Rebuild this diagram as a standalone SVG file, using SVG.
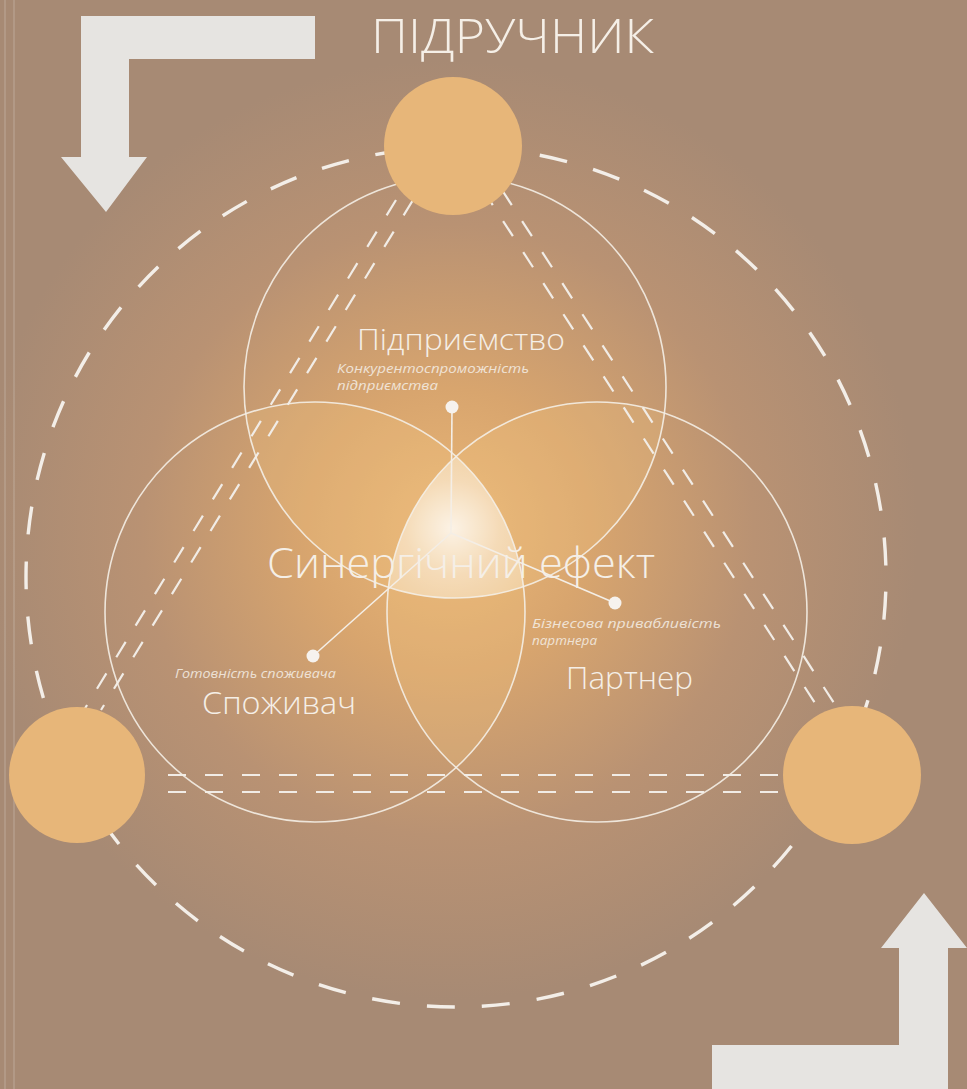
<svg xmlns="http://www.w3.org/2000/svg" width="967" height="1089" viewBox="0 0 967 1089">
<defs>
<radialGradient id="bg" gradientUnits="userSpaceOnUse" cx="448" cy="530" r="470">
 <stop offset="0" stop-color="#eab777"/>
 <stop offset="0.3" stop-color="#d8a56e"/>
 <stop offset="0.65" stop-color="#b99273"/>
 <stop offset="1" stop-color="#a78a74"/>
</radialGradient>
<radialGradient id="core" gradientUnits="userSpaceOnUse" cx="452" cy="528" r="95">
 <stop offset="0" stop-color="#ffffff" stop-opacity="0.8"/>
 <stop offset="0.5" stop-color="#ffffff" stop-opacity="0.45"/>
 <stop offset="1" stop-color="#ffffff" stop-opacity="0.28"/>
</radialGradient>
<clipPath id="cT"><circle cx="455" cy="387" r="211"/></clipPath>
<clipPath id="cL"><circle cx="315" cy="612" r="210"/></clipPath>
<clipPath id="cR"><circle cx="597" cy="612" r="210"/></clipPath>
<style>
 .ring{fill:none;stroke:#f4eee6;stroke-width:1.6;opacity:0.9}
 .lens{fill:#f3c684;fill-opacity:0.25}
 .dash{stroke:#f1ece6;stroke-width:2.2;stroke-dasharray:18 19;fill:none}
 .big{fill:none;stroke:#f3eee8;stroke-width:3.4;stroke-dasharray:28 27.14;stroke-dashoffset:-14.8}
 .sun{fill:#e7b679}
 .arrow{fill:#e6e4e1}
 .conn{stroke:#f4eee6;stroke-width:1.6;fill:none}
 .dot{fill:#f6f2ee}
 .t{font-family:"Open Sans","Noto Sans","DejaVu Sans",sans-serif;fill:#f5efe7;font-weight:300}
 .it{font-family:"Open Sans","Noto Sans","DejaVu Sans",sans-serif;fill:#f5efe7;font-style:italic;font-size:13.5px;opacity:0.85}
</style>
</defs>

<rect width="967" height="1089" fill="url(#bg)"/>
<line x1="5" y1="0" x2="5" y2="1089" stroke="#d8cfc6" stroke-width="1.5" opacity="0.3"/>
<line x1="14" y1="0" x2="14" y2="1089" stroke="#d8cfc6" stroke-width="1.5" opacity="0.3"/>

<g id="title">
 <text class="t" x="371" y="53" font-size="48" textLength="283" lengthAdjust="spacingAndGlyphs" fill="#ece8e4">ПІДРУЧНИК</text>
</g>

<g id="arrow-top">
 <polygon class="arrow" points="81,16 315,16 315,59 129,59 129,157 147,157 106,212 61,157 81,157"/>
</g>
<g id="arrow-bottom">
 <polygon class="arrow" points="712,1045 899,1045 899,948 881,948 924,893 967,948 948,948 948,1089 712,1089"/>
</g>

<g id="big-ring">
 <circle class="big" cx="456" cy="577" r="430"/>
</g>

<g id="overlaps">
 <g clip-path="url(#cL)"><circle class="lens" cx="455" cy="387" r="211"/></g>
 <g clip-path="url(#cR)"><circle class="lens" cx="455" cy="387" r="211"/></g>
 <g clip-path="url(#cR)"><circle class="lens" cx="315" cy="612" r="210"/></g>
 <g clip-path="url(#cL)"><g clip-path="url(#cR)"><circle cx="455" cy="387" r="211" fill="url(#core)"/></g></g>
</g>

<g id="dashed-links">
 <line class="dash" x1="396" y1="200" x2="84" y2="710"/>
 <line class="dash" x1="413" y1="200" x2="101" y2="710"/>
 <line class="dash" x1="483" y1="190" x2="826" y2="720"/>
 <line class="dash" x1="502" y1="190" x2="845" y2="720"/>
 <line class="dash" x1="168" y1="775" x2="784" y2="775"/>
 <line class="dash" x1="168" y1="792" x2="784" y2="792"/>
</g>

<g id="node-enterprise">
 <circle class="ring" cx="455" cy="387" r="211"/>
 <text class="t" x="357" y="350" font-size="30" textLength="208" lengthAdjust="spacingAndGlyphs">Підприємство</text>
 <text class="it" x="337" y="373" textLength="192" lengthAdjust="spacingAndGlyphs">Конкурентоспроможність</text>
 <text class="it" x="337" y="390" textLength="101" lengthAdjust="spacingAndGlyphs">підприємства</text>
</g>

<g id="node-consumer">
 <circle class="ring" cx="315" cy="612" r="210"/>
 <text class="it" x="175" y="678" textLength="161" lengthAdjust="spacingAndGlyphs">Готовність споживача</text>
 <text class="t" x="202" y="714" font-size="31" textLength="154" lengthAdjust="spacingAndGlyphs">Споживач</text>
</g>

<g id="node-partner">
 <circle class="ring" cx="597" cy="612" r="210"/>
 <text class="it" x="532" y="628" textLength="189" lengthAdjust="spacingAndGlyphs">Бізнесова привабливість</text>
 <text class="it" x="532" y="645" textLength="65" lengthAdjust="spacingAndGlyphs">партнера</text>
 <text class="t" x="566" y="689" font-size="31" textLength="127" lengthAdjust="spacingAndGlyphs">Партнер</text>
</g>

<g id="connectors">
 <line class="conn" x1="451" y1="533" x2="452" y2="407"/>
 <line class="conn" x1="451" y1="533" x2="615" y2="603"/>
 <line class="conn" x1="451" y1="533" x2="313" y2="656"/>
 <circle class="dot" cx="452" cy="407" r="6.5"/>
 <circle class="dot" cx="615" cy="603" r="6.5"/>
 <circle class="dot" cx="313" cy="656" r="6.5"/>
</g>

<g id="node-synergy">
 <text class="t" x="267" y="578" font-size="42" textLength="388" lengthAdjust="spacingAndGlyphs">Синергічний ефект</text>
</g>

<g id="suns">
 <circle class="sun" cx="453" cy="146" r="69"/>
 <circle class="sun" cx="77" cy="775" r="68"/>
 <circle class="sun" cx="852" cy="775" r="69"/>
</g>
</svg>
